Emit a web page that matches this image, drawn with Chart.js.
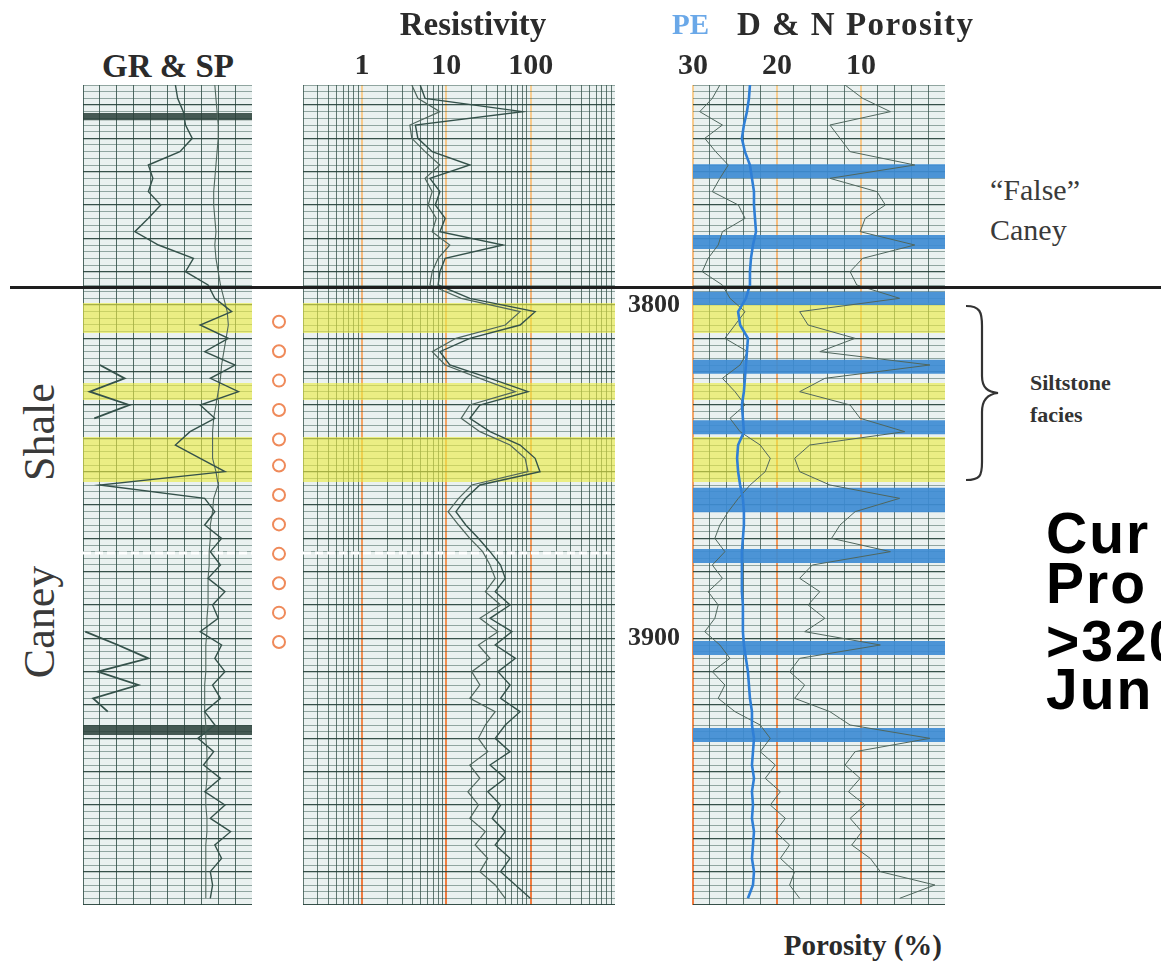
<!DOCTYPE html>
<html lang="en">
<head>
<meta charset="utf-8">
<title>Caney Shale log section</title>
<script src="https://cdn.jsdelivr.net/npm/chart.js@4.4.1/dist/chart.umd.min.js"></script>
<style>
  html, body { margin: 0; padding: 0; background: #fff; }
  body { position: relative; width: 1161px; height: 973px; overflow: hidden;
         font-family: "Liberation Serif", "DejaVu Serif", serif; color: #2b2b2b; }
  .box { position: absolute; }
  .txt { position: absolute; white-space: nowrap; line-height: 1; }
  .hdr { font-weight: bold; font-size: 33px; }
  .side { font-size: 44px; transform: translate(-50%, -50%) rotate(-90deg); }
  .slide { font-family: "Liberation Sans", Arial, sans-serif; font-weight: bold; font-size: 57px;
           letter-spacing: 2px; color: #000; }
  #topLine { position: absolute; left: 10px; right: 0; height: 3px; background: #1e1e1e; }
</style>
</head>
<body>
<div class="box" id="grBox" style="left:83px;top:85px;width:169px;height:820px"><canvas id="grChart"></canvas></div>
<div class="box" id="sampleBox" style="left:262px;top:85px;width:34px;height:820px"><canvas id="sampleChart"></canvas></div>
<div class="box" id="resBox" style="left:303px;top:40px;width:312px;height:865px"><canvas id="resChart"></canvas></div>
<div class="box" id="porBox" style="left:613px;top:40px;width:332px;height:865px"><canvas id="porChart"></canvas></div>
<div id="topLine"></div>

<div class="txt hdr" style="left:473px;top:8px;transform:translateX(-50%)">Resistivity</div>
<div class="txt hdr" style="left:168px;top:50px;transform:translateX(-50%)">GR &amp; SP</div>
<div class="txt hdr" style="left:672px;top:10px;font-size:29px;color:#6aa8e8">PE</div>
<div class="txt hdr" style="left:737px;top:8px;letter-spacing:1.5px">D &amp; N Porosity</div>
<div class="txt" style="left:990px;top:175px;font-size:30px;color:#3a3a3a">“False”</div>
<div class="txt" style="left:990px;top:215px;font-size:30px;color:#3a3a3a">Caney</div>
<div class="txt" style="left:1030px;top:372px;font-size:22px;font-weight:bold;color:#333">Siltstone</div>
<div class="txt" style="left:1030px;top:404px;font-size:22px;font-weight:bold;color:#333">facies</div>
<div class="txt side" style="left:40px;top:432px;color:#3a3a3a">Shale</div>
<div class="txt side" style="left:40px;top:622px;color:#3a3a3a">Caney</div>
<div class="txt slide" style="left:1046px;top:505px">Cur</div>
<div class="txt slide" style="left:1046px;top:555px">Pro</div>
<div class="txt slide" style="left:1046px;top:613px">&gt;320</div>
<div class="txt slide" style="left:1046px;top:661px">Jun</div>
<div class="txt" style="left:942px;top:931px;font-size:29px;font-weight:bold;transform:translateX(-100%)">Porosity (%)</div>
<svg style="position:absolute;left:960px;top:300px" width="50" height="186" viewBox="0 0 50 186">
  <path d="M6 6 C20 6 22 12 22 26 L22 76 C22 88 28 92 38 93 C28 94 22 100 22 112 L22 162 C22 176 20 180 6 180"
        fill="none" stroke="#333" stroke-width="2.2"/>
</svg>

<script>
// depth of each log sample (ft)
const depthFt = [3734, 3738, 3742, 3746, 3750, 3754, 3758, 3762, 3766, 3770,
  3774, 3778, 3782, 3786, 3790, 3794, 3798, 3802, 3806, 3810,
  3814, 3818, 3822, 3826, 3830, 3834, 3838, 3842, 3846, 3850,
  3854, 3858, 3862, 3866, 3870, 3874, 3878, 3882, 3886, 3890,
  3894, 3898, 3902, 3906, 3910, 3914, 3918, 3922, 3926, 3930,
  3934, 3938, 3942, 3946, 3950, 3954, 3958, 3962, 3966, 3970,
  3974, 3978];

// track 1 (GR, API scale 0-150)
const grApi = [82, 84, 89, 91, 97, 86, 58, 62, 58, 69, 58, 46, 67, 98, 91, 111,
  117, 132, 104, 129, 108, 135, 113, 138, 104, 117, 95, 82, 104, 126,
  15, 108, 117, 108, 123, 113, 122, 111, 126, 115, 120, 104, 123, 117, 126, 115,
  122, 108, 117, 102, 116, 107, 122, 108, 126, 113, 131, 117, 123, 113, 115, 113];
const spTrace = [117, 118, 119, 120, 120, 119, 118, 117, 116, 116, 117, 118, 117, 118, 120, 122,
  125, 128, 129, 127, 125, 123, 122, 120, 118, 116, 115, 115, 115, 118, 120,
  116, 115, 113, 113, 112, 112, 111, 111, 111, 110, 110, 109, 109, 109, 108,
  108, 108, 109, 109, 110, 110, 110, 109, 109, 110, 110, 109, 109, 109, 109, 109];
const grWrap = [null, null, null, null, null, null, null, null, null, null,
  null, null, null, null, null, null, null, null, null, null,
  null, 15, 37, 6, 41, 10, null, null, null, null,
  null, null, null, null, null, null, null, null, null, null,
  null, 2, 31, 58, 13, 49, 9, 22, null, null,
  null, null, null, null, null, null, null, null, null, null,
  null, null];

// track 2 (ohm-m)
const resDeep = [4.9, 5.6, 80, 4.3, 4.6, 6.8, 19, 6.4, 8.4, 7.4, 9.7, 8.4, 47, 9.7, 8.4, 8.0,
  19, 113, 75, 19, 8.4, 11, 33, 93, 25, 19, 33, 75, 113, 129,
  25, 17, 13, 17, 24, 33, 44, 50, 38, 57, 33, 60, 38, 66, 41, 57, 44, 75, 50, 38,
  57, 33, 50, 31, 44, 35, 50, 38, 57, 44, 66, 99];
const resShallow = [3.9, 4.6, 8.4, 3.7, 3.9, 5.6, 8.4, 5.6, 6.8, 6.1, 7.6, 6.8, 11, 8.0, 6.8, 6.4,
  15, 75, 50, 13, 6.8, 9.7, 25, 66, 19, 15, 25, 57, 86, 93,
  20, 14, 10.5, 14, 19, 27, 33, 38, 29, 44, 25, 41, 24, 33, 20, 25, 19, 38, 29, 24,
  31, 19, 25, 18, 24, 19, 29, 22, 31, 25, 38, 50];

// track 3 (PE in b/e on 0-10, porosity in % on 30-0)
const peCurve = [2.26, 2.22, 2.14, 2.02, 1.94, 2.06, 2.26, 2.34, 2.42, 2.42, 2.46, 2.50, 2.38, 2.30, 2.26, 2.26,
  2.10, 1.79, 1.87, 2.18, 2.14, 2.10, 2.06, 2.02, 1.94, 1.98, 2.02, 1.79, 1.75, 1.79,
  1.87, 1.98, 2.02, 2.02, 1.98, 1.94, 1.94, 1.94, 1.94, 1.98, 1.98, 1.98, 2.02, 2.10, 2.18, 2.22,
  2.26, 2.34, 2.34, 2.42, 2.38, 2.34, 2.42, 2.34, 2.38, 2.34, 2.42, 2.38, 2.34, 2.42, 2.38, 2.18];
const neutronPhi = [26.8, 27.7, 29.2, 26.5, 28.6, 27.3, 25.8, 26.8, 27.7, 24.6, 23.8, 26.5, 27.0, 28.2, 28.9, 26.5,
  25.6, 23.8, 25.0, 26.2, 23.5, 24.4, 26.5, 25.0, 23.8, 25.6, 24.4, 22.0, 20.8, 21.4,
  23.2, 24.6, 25.8, 26.8, 27.4, 26.2, 27.7, 26.5, 28.2, 27.0, 27.4, 28.6, 26.8, 25.6, 27.7, 26.2,
  27.0, 25.0, 22.0, 20.8, 22.0, 20.2, 21.4, 19.6, 20.8, 19.0, 20.2, 18.5, 19.6, 17.9, 18.5, 17.3];
const densityPhi = [11.9, 9.8, 6.5, 13.7, 12.5, 11.3, 3.6, 13.7, 8.1, 7.1, 9.5, 10.1, 3.6, 9.8, 11.3, 10.5,
  5.4, 17.3, 16.3, 10.7, 14.9, 1.8, 14.3, 17.3, 11.3, 10.1, 4.8, 16.1, 17.9, 17.3,
  13.7, 5.4, 10.7, 12.5, 13.5, 6.5, 15.8, 17.3, 14.9, 16.3, 14.3, 16.7, 7.7, 17.3, 18.5, 16.7,
  17.9, 13.7, 11.3, 1.8, 10.7, 11.9, 10.1, 11.5, 9.5, 11.3, 9.9, 11.1, 8.9, 7.7, 1.2, 5.4];

// intervals (top, base in ft)
const siltBeds = [[3799.4, 3808.4], [3823.4, 3828.5], [3839.6, 3853.1]];
const tightBeds = [[3757.8, 3762], [3779, 3783.2], [3796, 3800], [3816.4, 3820.6], [3834.6, 3838.8],
  [3854.8, 3862.2], [3873.2, 3877.4], [3900.8, 3905], [3926.9, 3931.1]];
const badHole = [[3742.4, 3744.6], [3926, 3929]];
const sampleDepths = [3804, 3813, 3822, 3831, 3840, 3848, 3857, 3866, 3875, 3884, 3893, 3902];
const topLineDepth = 3794.6;
const dashLineDepth = 3874.4;
const depthRange = [3734, 3980];

// tick labels
const resTicks = [1, 10, 100];
const porTicks = [30, 20, 10];
const depthTicks = [3800, 3900];

const serif = '"Liberation Serif", "DejaVu Serif", serif';
Chart.defaults.font.family = serif;

const ink = '#34514a';
const inkSoft = '#4f665d';
const gridMinor = 'rgba(52, 86, 77, 0.62)';
const gridMajor = 'rgba(34, 62, 54, 0.9)';
const gridV = 'rgba(40, 70, 62, 0.8)';
const yellow = 'rgba(236, 236, 66, 0.62)';
const blue = 'rgba(62, 140, 212, 0.92)';

// scale lines fade from pale at the top of the scan to strong orange at the base
const orangeCache = new WeakMap();
function orangeInk(chart) {
  const a = chart.chartArea;
  if (!a) return '#f4985a';
  let g = orangeCache.get(chart);
  if (!g) {
    g = chart.ctx.createLinearGradient(0, a.top, 0, a.bottom);
    g.addColorStop(0, '#f8cf92');
    g.addColorStop(0.45, '#f4a062');
    g.addColorStop(1, '#f07a3e');
    orangeCache.set(chart, g);
  }
  return g;
}

const paper = {
  id: 'paper',
  beforeDraw(chart) {
    const { ctx, chartArea: a } = chart;
    ctx.save();
    ctx.fillStyle = '#eaf1f0';
    ctx.fillRect(a.left, a.top, a.right - a.left, a.bottom - a.top);
    ctx.restore();
  }
};

const pts = vals => depthFt.map((d, i) => ({ x: vals[i], y: d }));

function curve(vals, color, width, axis) {
  return { data: pts(vals), borderColor: color, borderWidth: width, pointRadius: 0,
           fill: false, xAxisID: axis || 'x' };
}

function bands(ranges, lo, hi, color) {
  return ranges.map(([top, base]) => ({
    data: [{ x: lo, y: top }, { x: hi, y: top }, { x: hi, y: base }, { x: lo, y: base }],
    fill: 'shape', backgroundColor: color, borderColor: 'transparent', borderWidth: 0, pointRadius: 0
  }));
}

function dashLine(lo, hi) {
  return { data: [{ x: lo, y: dashLineDepth }, { x: hi, y: dashLineDepth }],
           borderColor: '#ffffff', borderWidth: 3, borderDash: [8, 4], pointRadius: 0, fill: false };
}

function fixBox(size) {
  return s => {
    if (s.isHorizontal()) s.height = size; else s.width = size;
    s.paddingLeft = s.paddingRight = s.paddingTop = s.paddingBottom = 0;
  };
}

function depthAxis(width, labelled) {
  return {
    type: 'linear', reverse: true, min: depthRange[0], max: depthRange[1],
    afterFit: fixBox(width),
    ticks: {
      display: !!labelled, stepSize: 2, autoSkip: false, padding: 13,
      font: { weight: 'bold', size: 26 }, color: '#2b2b2b',
      callback: v => (depthTicks.includes(v) ? String(v) : '')
    },
    grid: {
      drawTicks: false,
      color: c => (c.tick.value % 10 === 0 ? gridMajor : gridMinor),
      lineWidth: c => (c.tick.value % 10 === 0 ? 1.2 : 0.8)
    },
    border: { display: false }
  };
}

function baseOptions(scales) {
  return {
    indexAxis: 'y',
    responsive: true,
    maintainAspectRatio: false,
    animation: false,
    events: [],
    plugins: { legend: { display: false }, tooltip: { enabled: false } },
    scales
  };
}

const near = (v, list) => list.some(t => Math.abs(v - t) < 1e-9);

// Track 1: GR & SP
const grChart = new Chart(document.getElementById('grChart'), {
  type: 'line',
  data: { datasets: [
    curve(grApi, ink, 1.4),
    curve(spTrace, inkSoft, 1.1),
    curve(grWrap, ink, 1.8),
    dashLine(0, 150),
    ...bands(badHole, 0, 150, 'rgba(40, 62, 55, 0.85)'),
    ...bands(siltBeds, 0, 150, yellow)
  ] },
  options: baseOptions({
    x: { type: 'linear', position: 'top', min: 0, max: 150, afterFit: fixBox(0),
         ticks: { display: false, stepSize: 15 },
         grid: { drawTicks: false, color: gridV, lineWidth: 1 }, border: { display: false } },
    y: depthAxis(0, false)
  }),
  plugins: [paper]
});

// Sample column
new Chart(document.getElementById('sampleChart'), {
  type: 'scatter',
  data: { datasets: [{
    data: sampleDepths.map(d => ({ x: 0, y: d })),
    pointRadius: 6, pointBorderWidth: 2, pointBorderColor: '#ef8a5a', pointBackgroundColor: '#ffffff'
  }] },
  options: {
    responsive: true, maintainAspectRatio: false, animation: false, events: [],
    plugins: { legend: { display: false }, tooltip: { enabled: false } },
    scales: {
      x: { display: false, min: -1, max: 1 },
      y: { display: false, reverse: true, min: depthRange[0], max: depthRange[1] }
    }
  }
});

// Track 2: resistivity
new Chart(document.getElementById('resChart'), {
  type: 'line',
  data: { datasets: [
    curve(resDeep, ink, 1.4),
    curve(resShallow, inkSoft, 1.2),
    dashLine(0.2, 1000),
    ...bands(siltBeds, 0.2, 1000, yellow)
  ] },
  options: baseOptions({
    x: { type: 'logarithmic', position: 'top', min: 0.2, max: 1000, afterFit: fixBox(45),
         afterBuildTicks: s => {
           s.ticks = s.ticks.filter(t => Math.abs(t.value / Math.pow(10, Math.floor(Math.log10(t.value) + 1e-9)) - 1.5) > 1e-6);
         },
         ticks: { autoSkip: false, maxRotation: 0, minRotation: 0, padding: 1,
                  font: { weight: 'bold', size: 30 }, color: '#2b2b2b',
                  callback: v => (near(v, resTicks) ? String(v) : '') },
         grid: { drawTicks: false,
                 color: c => (near(c.tick.value, resTicks) ? orangeInk(c.chart) : gridV),
                 lineWidth: c => (near(c.tick.value, resTicks) ? 2 : 0.9) },
         border: { display: false } },
    y: depthAxis(0, false)
  }),
  plugins: [paper]
});

// Track 3: PE and density / neutron porosity
new Chart(document.getElementById('porChart'), {
  type: 'line',
  data: { datasets: [
    curve(peCurve, '#2f7fd6', 2.6, 'xPe'),
    curve(densityPhi, inkSoft, 1.0),
    curve(neutronPhi, inkSoft, 1.0),
    ...bands(tightBeds, 0, 30, blue),
    ...bands(siltBeds, 0, 30, yellow)
  ] },
  options: baseOptions({
    x: { type: 'linear', position: 'top', min: 0, max: 30, reverse: true, afterFit: fixBox(45),
         ticks: { stepSize: 2, autoSkip: false, maxRotation: 0, minRotation: 0, padding: 1,
                  font: { weight: 'bold', size: 30 }, color: '#2b2b2b',
                  callback: v => (porTicks.includes(v) ? String(v) : '') },
         grid: { drawTicks: false,
                 color: c => (porTicks.includes(c.tick.value) ? orangeInk(c.chart) : gridV),
                 lineWidth: c => (porTicks.includes(c.tick.value) ? 2 : 0.9) },
         border: { display: false } },
    xPe: { type: 'linear', position: 'top', min: 0, max: 10, display: false },
    y: depthAxis(80, true)
  }),
  plugins: [paper]
});

// formation top line across the whole panel, placed from the depth scale
const grBox = document.getElementById('grBox');
const topY = grBox.offsetTop + grChart.scales.y.getPixelForValue(topLineDepth);
document.getElementById('topLine').style.top = (topY - 1.5) + 'px';
</script>
</body>
</html>
